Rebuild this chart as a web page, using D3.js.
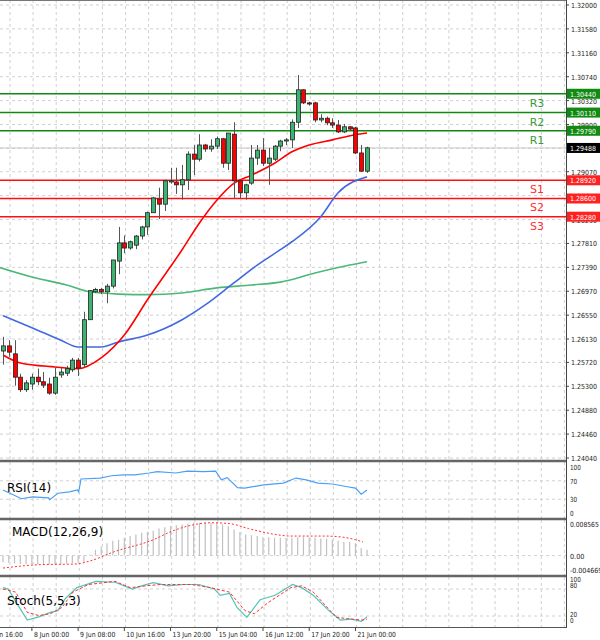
<!DOCTYPE html>
<html><head><meta charset="utf-8">
<script src="https://cdn.jsdelivr.net/npm/d3@7"></script>
<style>body{margin:0;background:#fff}svg{display:block;font-family:Tahoma,"DejaVu Sans",sans-serif}</style>
</head><body><svg id="c" width="600" height="640"></svg>
<script>
const opens=[1.2592,1.2601,1.2587,1.2546,1.2524,1.2534,1.2546,1.2538,1.2534,1.2518,1.2550,1.2553,1.2559,1.2576,1.2568,1.2647,1.2696,1.2700,1.2696,1.2706,1.2750,1.2782,1.2773,1.2778,1.2794,1.2810,1.2835,1.2859,1.2850,1.2889,1.2889,1.2884,1.2893,1.2938,1.2929,1.2954,1.2947,1.2952,1.2965,1.2922,1.2973,1.2891,1.2870,1.2887,1.2931,1.2945,1.2922,1.2929,1.2952,1.2961,1.2963,1.2994,1.3051,1.3028,1.3028,1.2998,1.3001,1.2993,1.2989,1.2977,1.2986,1.2984,1.2940,1.2908];
const closes=[1.2601,1.2590,1.2546,1.2524,1.2536,1.2546,1.2538,1.2532,1.2518,1.2546,1.2555,1.2561,1.2576,1.2562,1.2647,1.2698,1.2700,1.2696,1.2706,1.2752,1.2782,1.2773,1.2784,1.2794,1.2810,1.2835,1.2861,1.2850,1.2891,1.2891,1.2884,1.2893,1.2938,1.2929,1.2954,1.2947,1.2952,1.2965,1.2922,1.2975,1.2891,1.2870,1.2884,1.2931,1.2945,1.2922,1.2931,1.2952,1.2961,1.2963,1.2994,1.3051,1.3028,1.3026,1.2998,1.3001,1.2993,1.2989,1.2977,1.2986,1.2982,1.2940,1.2908,1.2949];
const highs=[1.2617,1.2611,1.2611,1.2552,1.2541,1.2552,1.2561,1.2555,1.2545,1.2562,1.2562,1.2566,1.2580,1.2580,1.2661,1.2699,1.2703,1.2703,1.2710,1.2752,1.2810,1.2795,1.2786,1.2796,1.2812,1.2837,1.2863,1.2879,1.2893,1.2914,1.2914,1.2919,1.2943,1.2954,1.2973,1.2956,1.2964,1.2969,1.2966,1.2975,1.2994,1.2893,1.2886,1.2954,1.2954,1.2966,1.2949,1.2954,1.2963,1.2966,1.2999,1.3077,1.3052,1.3030,1.3030,1.3008,1.3004,1.3001,1.2998,1.2991,1.2987,1.2986,1.2954,1.2951];
const lows=[1.2568,1.2582,1.2531,1.2520,1.2520,1.2524,1.2532,1.2527,1.2515,1.2515,1.2545,1.2548,1.2555,1.2548,1.2562,1.2647,1.2694,1.2692,1.2676,1.2702,1.2727,1.2764,1.2770,1.2771,1.2788,1.2796,1.2835,1.2824,1.2838,1.2886,1.2868,1.2858,1.2875,1.2901,1.2925,1.2942,1.2942,1.2947,1.2914,1.2910,1.2861,1.2861,1.2858,1.2884,1.2919,1.2917,1.2884,1.2926,1.2943,1.2954,1.2949,1.2984,1.3026,1.3023,1.2994,1.2994,1.2989,1.2984,1.2975,1.2975,1.2979,1.2938,1.2907,1.2905];
const ma1Idx=[0,3,9,13,17,21,25,31,34,37,40,43,47,50,53,57,61,63];
const ma1Val=[1.2585,1.2571,1.2564,1.2561,1.2580,1.2620,1.2682,1.2770,1.2817,1.2857,1.2887,1.2901,1.2922,1.2942,1.2954,1.2963,1.2972,1.2975];
const ma2Idx=[0,5,10,13,17,20,25,31,35,40,44,48,50,55,58,63];
const ma2Val=[1.2654,1.2633,1.2611,1.2599,1.2599,1.2608,1.2620,1.2647,1.2673,1.2712,1.2743,1.2770,1.2784,1.2828,1.2870,1.2898];
const ma3Idx=[-1,5,11,15,20,25,31,37,43,48,54,60,63];
const ma3Val=[1.2740,1.2722,1.2708,1.2696,1.2692,1.2691,1.2694,1.2703,1.2708,1.2713,1.2729,1.2743,1.2749];
const resLevels=[1.30440,1.30110,1.29790], resNames=["R3","R2","R1"];
const supLevels=[1.28920,1.28600,1.28280], supNames=["S1","S2","S3"];
const lastPrice=1.29488;
const priceTicks=["1.32000","1.31580","1.31160","1.30740","1.30320","1.29900","1.29480","1.29070","1.28650","1.28230","1.27810","1.27390","1.26970","1.26550","1.26130","1.25720","1.25300","1.24880","1.24460","1.24040"];
const rsiIdx=[0,3.2,5.1,7.9,8.1,9.5,11.5,12.9,13.1,13.5,16.8,18.8,20.8,22.8,25.3,26.7,29.9,31.9,34.7,36.8,37.8,38.8,40.6,41.8,45.1,48.5,50.7,52.5,54.5,57,59.6,61,62,63];
const rsiVal=[50,31,35,33,29,43,46,50,46,74,76,81,83,83,87,90,87,91,90,91,72,77,55,54,61,65,76,72,65,63,57,54,41,50];
const macdHist=[-0.0016,-0.0017,-0.0019,-0.0020,-0.0021,-0.0021,-0.0021,-0.0021,-0.0021,-0.0021,-0.0020,-0.0019,-0.0018,-0.0017,-0.0016,0.0002,0.0014,0.0022,0.0030,0.0036,0.0038,0.0043,0.0047,0.0051,0.0055,0.0057,0.0060,0.0065,0.0068,0.0071,0.0073,0.0075,0.0077,0.0079,0.0079,0.0079,0.0079,0.0079,0.0075,0.0071,0.0063,0.0057,0.0051,0.0049,0.0047,0.0044,0.0044,0.0043,0.0043,0.0043,0.0043,0.0044,0.0044,0.0044,0.0043,0.0041,0.0041,0.0038,0.0036,0.0033,0.0033,0.0030,0.0018,0.0014];
const sigIdx=[0,6.2,12.8,14.8,19.4,26,29.3,32.6,35.9,39.2,42.5,47.1,49.8,55.7,59,62.3];
const sigVal=[-0.0030,-0.0022,-0.0020,-0.0014,0.0010,0.0038,0.0059,0.0073,0.0079,0.0077,0.0065,0.0051,0.0047,0.0047,0.0044,0.0033];
const stMainIdx=[0,0.9,2.2,4.2,6.2,8.2,9.5,10.8,12.8,16.1,19.4,22.4,24,26,28.6,31.3,33.9,36.6,37.6,39.2,40.5,42.2,44.5,47.1,50.1,51.7,53.7,56.4,58.4,60.3,62,63];
const stMainVal=[83,80,52,11,18,28,32,59,83,97,95,80,87,94,87,90,90,80,66,70,39,17,56,66,90,83,66,32,11,13,8,18];
const stSigIdx=[0,2.2,4.2,6.2,8.2,10.2,12.1,14.8,19.4,22,24.7,27.3,32.6,35.9,39.2,41.9,43.5,45.8,49.8,51.7,53.7,55.7,57.7,60.3,62.3,63];
const stSigVal=[80,73,28,21,25,39,73,90,97,83,87,90,90,83,73,32,25,49,83,87,73,45,17,13,11,13];
const timeLabels=["7 Jun 16:00","8 Jun 00:00","9 Jun 08:00","10 Jun 16:00","13 Jun 20:00","15 Jun 04:00","16 Jun 12:00","17 Jun 20:00","21 Jun 00:00"];
const timeLabelIdx=[-3,5,13,21,29,37,45,53,61];

const svg=d3.select("#c");
const R=566;
const x=d3.scaleLinear().domain([0,63]).range([3,367]);
const xi=x;
const y=d3.scaleLinear().domain([1.24040,1.32000]).range([458,5]);
const yR=d3.scaleLinear().domain([0,100]).range([513,467]);
const yM=d3.scaleLinear().domain([-0.004669,0.008565]).range([575,520]);
const yS=d3.scaleLinear().domain([0,100]).range([625,580]);
const panels=[[0,461],[462,518],[520,575],[577,627]];
const defs=svg.append("defs");
panels.forEach((p,k)=>defs.append("clipPath").attr("id","cp"+k).append("rect").attr("x",0).attr("y",p[0]).attr("width",R).attr("height",p[1]-p[0]));
const grid="#d0d0d0";
const txt=(g,t,tx,ty,w,fs,fill)=>g.append("text").attr("x",tx).attr("y",ty).attr("font-size",fs||7).attr("fill",fill||"#222").attr("textLength",w).attr("lengthAdjust","spacingAndGlyphs").text(t);
panels.forEach((p,k)=>{const g=svg.append("g").attr("clip-path",`url(#cp${k})`);
 for(let gx=10;gx<R;gx+=23.1) g.append("line").attr("x1",gx).attr("x2",gx).attr("y1",p[0]).attr("y2",p[1]).attr("stroke",grid).attr("stroke-dasharray","3,3");});
const gm=svg.append("g").attr("clip-path","url(#cp0)");
priceTicks.forEach(t=>gm.append("line").attr("x1",0).attr("x2",R).attr("y1",y(+t)).attr("y2",y(+t)).attr("stroke",grid).attr("stroke-dasharray","3,3"));
gm.append("line").attr("x1",0).attr("x2",R).attr("y1",y(lastPrice)).attr("y2",y(lastPrice)).attr("stroke","#c8c8c8");
resLevels.forEach((v,k)=>{gm.append("line").attr("x1",0).attr("x2",R).attr("y1",y(v)).attr("y2",y(v)).attr("stroke","#118811").attr("stroke-width",1.6);
 gm.append("text").attr("x",537).attr("y",y(v)+13).attr("text-anchor","middle").attr("font-size",11).attr("fill","#3a9a3a").text(resNames[k]);});
supLevels.forEach((v,k)=>{gm.append("line").attr("x1",0).attr("x2",R).attr("y1",y(v)).attr("y2",y(v)).attr("stroke","#ff1010").attr("stroke-width",1.6);
 gm.append("text").attr("x",537).attr("y",y(v)+13).attr("text-anchor","middle").attr("font-size",11).attr("fill","#ff3030").text(supNames[k]);});
const mline=(I,V,xs,ys)=>d3.line().x((d,i)=>xs(I[i])).y(d=>ys(d)).curve(d3.curveMonotoneX)(V);
gm.append("path").attr("d",mline(ma3Idx,ma3Val,x,y)).attr("fill","none").attr("stroke","#4cb87a").attr("stroke-width",1.6);
gm.append("path").attr("d",mline(ma2Idx,ma2Val,x,y)).attr("fill","none").attr("stroke","#4169e1").attr("stroke-width",1.6);
gm.append("path").attr("d",mline(ma1Idx,ma1Val,x,y)).attr("fill","none").attr("stroke","#ff0000").attr("stroke-width",1.6);
opens.forEach((o,i)=>{const c=closes[i],cx=Math.round(x(i))+0.5,up=c>=o;
 gm.append("line").attr("x1",cx).attr("x2",cx).attr("y1",y(highs[i])).attr("y2",y(lows[i])).attr("stroke","#555");
 const t=y(Math.max(o,c)),b=y(Math.min(o,c));
 gm.append("rect").attr("x",cx-2).attr("y",t).attr("width",4).attr("height",Math.max(1,b-t)).attr("fill",up?"#3cb371":"#ff0000").attr("stroke","#222").attr("stroke-width",0.8);});
const g1=svg.append("g").attr("clip-path","url(#cp1)");
[70,30].forEach(v=>g1.append("line").attr("x1",0).attr("x2",R).attr("y1",yR(v)).attr("y2",yR(v)).attr("stroke",grid).attr("stroke-dasharray","3,3"));
g1.append("path").attr("d",d3.line().x((d,i)=>xi(rsiIdx[i])).y(d=>yR(d))(rsiVal)).attr("fill","none").attr("stroke","#4a9ff5").attr("stroke-width",1.2);
const g2=svg.append("g").attr("clip-path","url(#cp2)");
g2.append("line").attr("x1",0).attr("x2",R).attr("y1",yM(0)).attr("y2",yM(0)).attr("stroke",grid).attr("stroke-dasharray","3,3");
macdHist.forEach((v,i)=>g2.append("line").attr("x1",xi(i)).attr("x2",xi(i)).attr("y1",yM(0)).attr("y2",yM(v)).attr("stroke","#c0c0c0").attr("stroke-width",1.2));
g2.append("path").attr("d",mline(sigIdx,sigVal,xi,yM)).attr("fill","none").attr("stroke","#ff3030").attr("stroke-dasharray","2,2").attr("stroke-width",1);
const g3=svg.append("g").attr("clip-path","url(#cp3)");
[80,20].forEach(v=>g3.append("line").attr("x1",0).attr("x2",R).attr("y1",yS(v)).attr("y2",yS(v)).attr("stroke",grid).attr("stroke-dasharray","3,3"));
g3.append("path").attr("d",d3.line().x((d,i)=>xi(stMainIdx[i])).y(d=>yS(d))(stMainVal)).attr("fill","none").attr("stroke","#52c4b8").attr("stroke-width",1.2);
g3.append("path").attr("d",d3.line().x((d,i)=>xi(stSigIdx[i])).y(d=>yS(d))(stSigVal)).attr("fill","none").attr("stroke","#ff3030").attr("stroke-dasharray","3,2").attr("stroke-width",1);
svg.append("line").attr("x1",0).attr("x2",R).attr("y1",0.5).attr("y2",0.5).attr("stroke","#777");
[461,519,576].forEach(v=>svg.append("line").attr("x1",0).attr("x2",R).attr("y1",v).attr("y2",v).attr("stroke","#666").attr("stroke-width",2.5));
svg.append("line").attr("x1",0).attr("x2",R).attr("y1",627.5).attr("y2",627.5).attr("stroke","#555");
svg.append("line").attr("x1",R+0.5).attr("x2",R+0.5).attr("y1",0).attr("y2",628).attr("stroke","#444");
const ax=svg.append("g");
priceTicks.forEach(t=>{ax.append("line").attr("x1",R).attr("x2",R+3).attr("y1",y(+t)).attr("y2",y(+t)).attr("stroke","#444");
 txt(ax,t,R+5,y(+t)+3,26);});
const box=(v,fill)=>{svg.append("rect").attr("x",R+1).attr("y",y(v)-5).attr("width",33).attr("height",10).attr("fill",fill);
 txt(svg,v.toFixed(5),R+4,y(v)+3,26,7,"#fff");};
resLevels.forEach(v=>box(v,"#108a10"));supLevels.forEach(v=>box(v,"#ff2020"));box(lastPrice,"#000");
const il=(t,yy)=>txt(svg,t,R+4,yy,t.length*3.6);
il("100",yR(100)+3);il("70",yR(70)+3);il("30",yR(30)+3);il("0",yR(0)+3);
il("0.008565",524+3);il("0.00",yM(0)+3);il("-0.004669",570+3);
il("100",582);il("80",588);il("20",617);il("0",623);
svg.append("text").attr("x",7).attr("y",492).attr("font-size",12).text("RSI(14)");
svg.append("text").attr("x",12).attr("y",536).attr("font-size",12).text("MACD(12,26,9)");
svg.append("text").attr("x",7).attr("y",605).attr("font-size",12).text("Stoch(5,5,3)");
timeLabels.forEach((t,k)=>{const lx=xi(timeLabelIdx[k]);
 svg.append("line").attr("x1",lx).attr("x2",lx).attr("y1",627).attr("y2",631).attr("stroke","#444");
 txt(svg,t,lx+2,637,t.length*3.2);});
</script></body></html>
